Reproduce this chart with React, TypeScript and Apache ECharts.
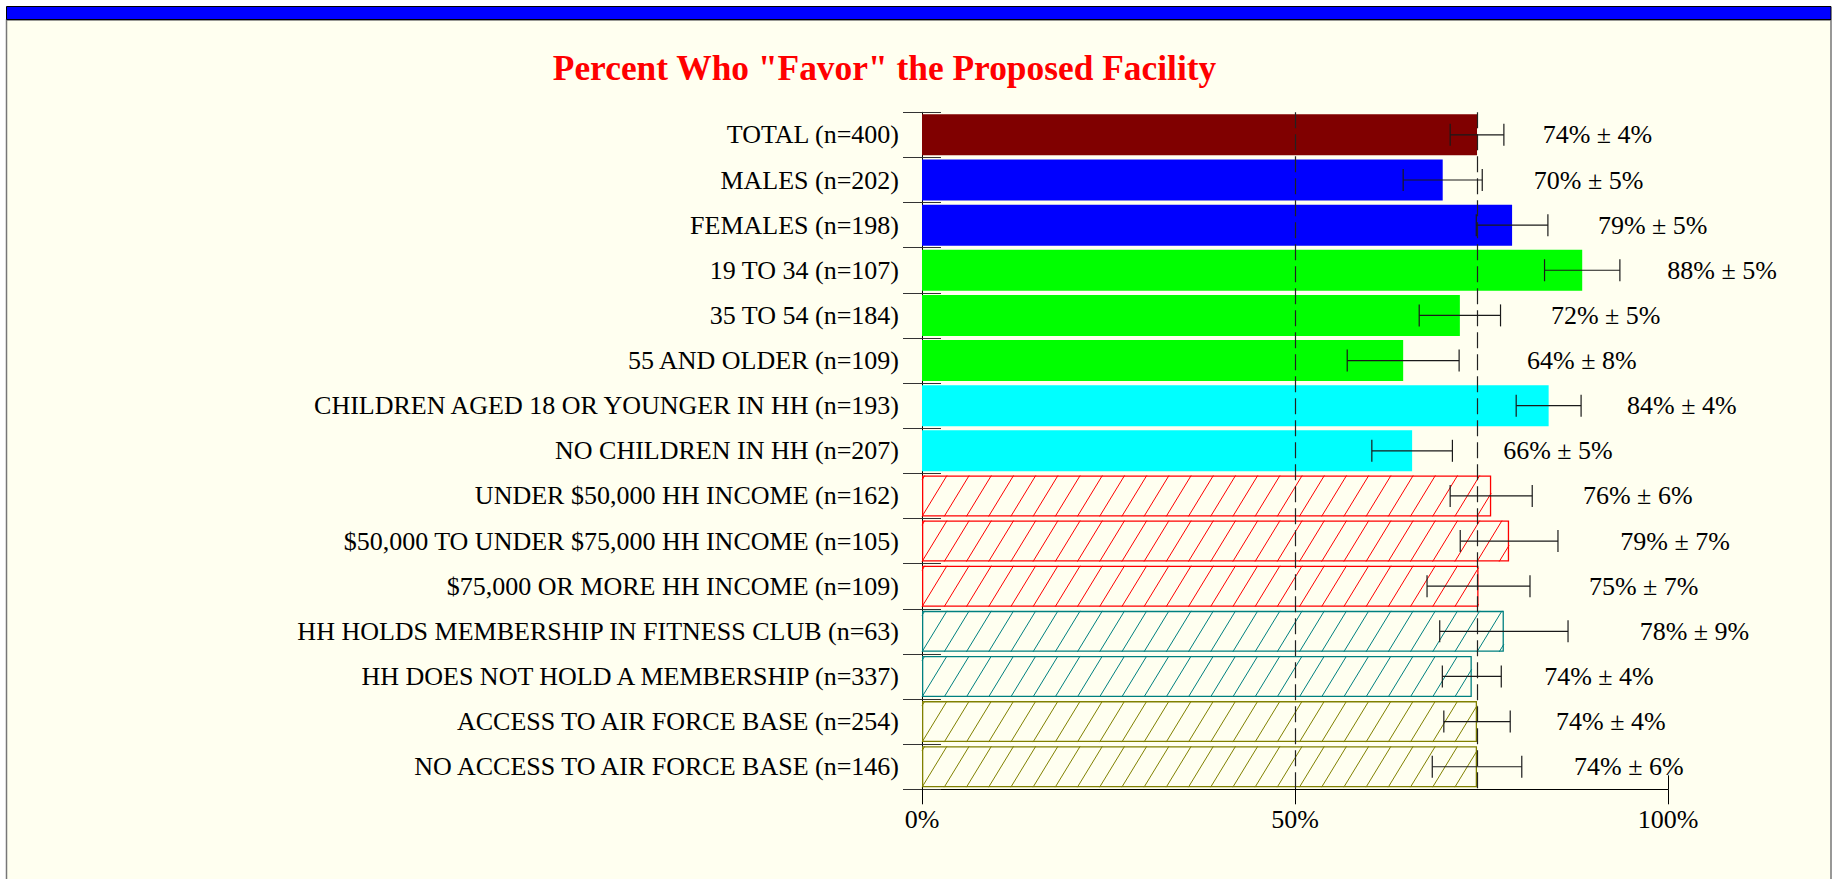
import React, { useEffect, useRef } from 'react';
import * as echarts from 'echarts';

// ---------- data ----------
const categories = [
  'TOTAL (n=400)',
  'MALES (n=202)',
  'FEMALES (n=198)',
  '19 TO 34 (n=107)',
  '35 TO 54 (n=184)',
  '55 AND OLDER (n=109)',
  'CHILDREN AGED 18 OR YOUNGER IN HH (n=193)',
  'NO CHILDREN IN HH (n=207)',
  'UNDER $50,000 HH INCOME (n=162)',
  '$50,000 TO UNDER $75,000 HH INCOME (n=105)',
  '$75,000 OR MORE HH INCOME (n=109)',
  'HH HOLDS MEMBERSHIP IN FITNESS CLUB (n=63)',
  'HH DOES NOT HOLD A MEMBERSHIP (n=337)',
  'ACCESS TO AIR FORCE BASE (n=254)',
  'NO ACCESS TO AIR FORCE BASE (n=146)',
];
const groups = [
  'total', 'gender', 'gender', 'age', 'age', 'age', 'children', 'children',
  'income', 'income', 'income', 'fitness', 'fitness', 'airbase', 'airbase',
];
const favorPct = [74.4, 69.8, 79.1, 88.5, 72.1, 64.5, 84.0, 65.7, 76.3, 78.7, 74.6, 78.0, 73.7, 74.4, 74.4];
const marginOfError = [3.6, 5.3, 4.8, 5.05, 5.45, 7.5, 4.35, 5.4, 5.5, 6.55, 6.9, 8.6, 3.95, 4.45, 6.0];
const pctLabels = [74, 70, 79, 88, 72, 64, 84, 66, 76, 79, 75, 78, 74, 74, 74];
const moeLabels = [4, 5, 5, 5, 5, 8, 4, 5, 6, 7, 7, 9, 4, 4, 6];
const xTickValues = [0, 50, 100];
const referenceLines = [50, favorPct[0]];
const titleText = 'Percent Who "Favor" the Proposed Facility';

// ---------- layout / style ----------
const labelStartPct = [83.2, 82.0, 90.6, 99.9, 84.3, 81.1, 94.5, 77.9, 88.6, 93.6, 89.4, 96.2, 83.4, 85.0, 87.4];
const groupStyle: Record<string, { color: string; hatch: boolean }> = {
  total: { color: '#800000', hatch: false },
  gender: { color: '#0000FF', hatch: false },
  age: { color: '#00FF00', hatch: false },
  children: { color: '#00FFFF', hatch: false },
  income: { color: '#FF0000', hatch: true },
  fitness: { color: '#008080', hatch: true },
  airbase: { color: '#808000', hatch: true },
};
const W = 1833;
const H = 879;
const BG = '#FFFFF0';
const FONT = '"Liberation Serif", "Times New Roman", serif';
const BAR_H = 41;
const HATCH_STEP = 22.2;
const HATCH_DX = 25;

export default function App() {
  const ref = useRef<HTMLDivElement>(null);
  useEffect(() => {
    if (!ref.current) return;
    const chart = echarts.init(ref.current, null, { renderer: 'svg' });

    const gridLeft = 922;
    const gridRight = W - 1668;
    const gridTop = 112.3;
    const gridBottom = H - 789.3;

    const barData = favorPct.map((v, i) => {
      const st = groupStyle[groups[i]];
      return {
        value: v,
        itemStyle: st.hatch
          ? { color: BG, borderColor: st.color, borderWidth: 1.3 }
          : { color: st.color, borderWidth: 0 },
      };
    });

    const option: any = {
      animation: false,
      backgroundColor: '#FFFFFF',
      graphic: [
        {
          type: 'rect',
          z: -20,
          silent: true,
          shape: { x: 6.5, y: 20, width: 1824.5, height: 880 },
          style: { fill: BG, stroke: '#777', lineWidth: 1.5 },
        },
        {
          type: 'rect',
          z: -19,
          silent: true,
          shape: { x: 6.5, y: 6.5, width: 1824.5, height: 13 },
          style: { fill: '#0000FF', stroke: '#000', lineWidth: 1 },
        },
        {
          type: 'text',
          z: 10,
          x: 884.5,
          y: 67.5,
          style: {
            text: titleText,
            fill: '#FF0000',
            font: `bold 35.4px ${FONT}`,
            textAlign: 'center',
            textVerticalAlign: 'middle',
          },
        },
      ],
      grid: { left: gridLeft, right: gridRight, top: gridTop, bottom: gridBottom, containLabel: false },
      xAxis: [
        {
          type: 'value',
          min: xTickValues[0],
          max: xTickValues[xTickValues.length - 1],
          interval: xTickValues[1] - xTickValues[0],
          position: 'bottom',
          axisLine: { show: true, lineStyle: { color: '#000', width: 1 } },
          axisTick: { show: true, length: 15, lineStyle: { color: '#000', width: 1 } },
          axisLabel: { fontSize: 26, color: '#000', fontFamily: FONT, margin: 17, formatter: '{value}%' },
          splitLine: { show: false },
        },
        {
          type: 'value',
          min: xTickValues[0],
          max: xTickValues[xTickValues.length - 1],
          interval: xTickValues[1] - xTickValues[0],
          position: 'bottom',
          offset: 0,
          axisLine: { show: false },
          axisTick: { show: true, inside: true, length: 14, lineStyle: { color: '#000', width: 1 } },
          axisLabel: { show: false },
          splitLine: { show: false },
        },
      ],
      yAxis: [
        {
          type: 'category',
          data: categories,
          inverse: true,
          position: 'left',
          axisLine: { show: true, lineStyle: { color: '#000', width: 1 } },
          axisTick: { show: true, length: 19, lineStyle: { color: '#333', width: 1 } },
          axisLabel: { fontSize: 26, color: '#000', fontFamily: FONT, margin: 23 },
          splitLine: { show: false },
        },
        {
          type: 'category',
          data: categories,
          inverse: true,
          position: 'left',
          offset: 0,
          axisLine: { show: false },
          axisTick: { show: true, inside: true, length: 19, lineStyle: { color: '#333', width: 1 } },
          axisLabel: { show: false },
          splitLine: { show: false },
        },
      ],
      series: [
        {
          type: 'bar',
          data: barData,
          barWidth: BAR_H,
          z: 2,
        },
        {
          type: 'custom',
          z: 3,
          silent: true,
          clip: false,
          data: favorPct.map((v, i) => [v, i]),
          encode: { x: 0, y: 1 },
          renderItem: (params: any, api: any) => {
            const i = params.dataIndex;
            const st = groupStyle[groups[i]];
            if (!st.hatch) return { type: 'group', children: [] };
            const p0 = api.coord([0, i]);
            const p1 = api.coord([api.value(0), i]);
            const x1 = p0[0];
            const x2 = p1[0];
            const yTop = p0[1] - BAR_H / 2;
            const yBot = p0[1] + BAR_H / 2;
            const children: any[] = [];
            for (let bx = x1 - HATCH_STEP * 2; bx < x2; bx += HATCH_STEP) {
              const tmin = Math.max(0, (x1 - bx) / HATCH_DX);
              const tmax = Math.min(1, (x2 - bx) / HATCH_DX);
              if (tmax <= tmin) continue;
              children.push({
                type: 'line',
                shape: {
                  x1: bx + tmin * HATCH_DX,
                  y1: yBot - tmin * BAR_H,
                  x2: bx + tmax * HATCH_DX,
                  y2: yBot - tmax * BAR_H,
                },
                style: { stroke: st.color, lineWidth: 1 },
              });
            }
            return { type: 'group', children };
          },
          markLine: {
            silent: true,
            symbol: ['none', 'none'],
            label: { show: false },
            lineStyle: { color: '#222', width: 1.2, type: [16, 6] },
            data: referenceLines.map((x) => ({ xAxis: x })),
          },
        },
        {
          type: 'custom',
          z: 5,
          silent: true,
          clip: false,
          data: favorPct.map((v, i) => [v, i, marginOfError[i], labelStartPct[i]]),
          encode: { x: 0, y: 1 },
          renderItem: (params: any, api: any) => {
            const i = params.dataIndex;
            const v = api.value(0);
            const e = api.value(2);
            const lo = api.coord([v - e, i]);
            const hi = api.coord([v + e, i]);
            const lab = api.coord([api.value(3), i]);
            const y = lo[1];
            const cap = 11;
            const stroke = { stroke: '#1a1a1a', lineWidth: 1.2 };
            return {
              type: 'group',
              children: [
                { type: 'line', shape: { x1: lo[0], y1: y, x2: hi[0], y2: y }, style: stroke },
                { type: 'line', shape: { x1: lo[0], y1: y - cap, x2: lo[0], y2: y + cap }, style: stroke },
                { type: 'line', shape: { x1: hi[0], y1: y - cap, x2: hi[0], y2: y + cap }, style: stroke },
                {
                  type: 'text',
                  x: lab[0],
                  y: y,
                  style: {
                    text: `${pctLabels[i]}% \u00B1 ${moeLabels[i]}%`,
                    fill: '#000',
                    font: `26px ${FONT}`,
                    textAlign: 'left',
                    textVerticalAlign: 'middle',
                  },
                },
              ],
            };
          },
        },
      ],
    };

    chart.setOption(option);
    return () => chart.dispose();
  }, []);

  return (
    <div
      ref={ref}
      style={{ position: 'fixed', left: 0, top: 0, width: W, height: H }}
    />
  );
}
